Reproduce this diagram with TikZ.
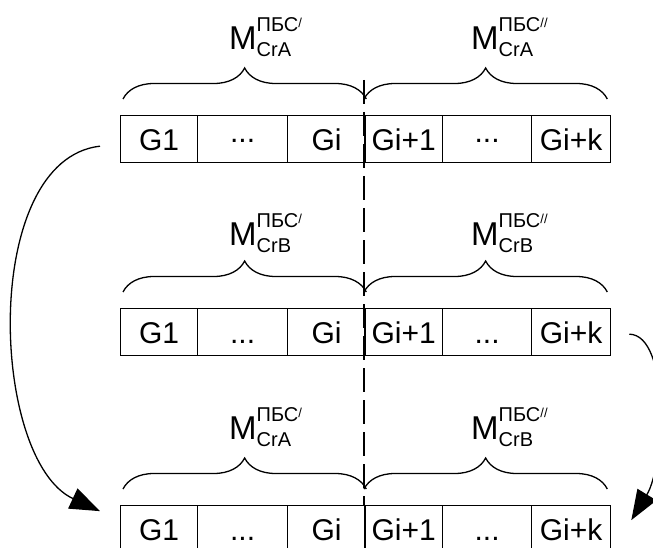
\documentclass[tikz,border=0pt]{standalone}
\usepackage{fontspec}
\setmainfont{Liberation Sans}
\usetikzlibrary{arrows.meta,positioning,calc,decorations.pathreplacing}
\newcommand{\mlab}[2]{{\fontsize{33}{33}\selectfont M}\rlap{\raisebox{18pt}{\fontsize{20}{20}\selectfont ПБС\raisebox{4pt}{\fontsize{13}{13}\selectfont #2}}}\raisebox{-7pt}{\fontsize{20}{20}\selectfont #1}}
\newcommand{\lowdots}{...}
\newcommand{\middots}{\raisebox{8pt}{...}}
\tikzset{segcell/.style={draw,line width=1.3pt,anchor=north west,minimum height=47pt,inner sep=0pt,text height=23pt,text depth=0pt,font=\fontsize{30}{30}\selectfont},segbrace/.style={line width=1.3pt,decorate,decoration={brace,amplitude=31pt}},segarr/.style={-{Triangle[length=30pt,width=22pt]},line width=1.3pt},segdash/.style={line width=1.1pt,dash pattern=on 24pt off 8pt},seglabel/.style={anchor=base west,inner sep=0pt}}
\begin{document}
\begin{tikzpicture}[x=1pt,y=-1pt]
\useasboundingbox (0,0) rectangle (653,548);
\node[segcell,minimum width=77pt] (a1) at (120,115) {G1};
\node[segcell,minimum width=90pt] (a2) at (197,115) {\middots};
\node[segcell,minimum width=78pt] (a3) at (287,115) {Gi};
\node[segcell,minimum width=78pt] (a4) at (364,115) {Gi+1};
\node[segcell,minimum width=89pt] (a5) at (442,115) {\middots};
\node[segcell,minimum width=79pt] (a6) at (531,115) {Gi+k};
\node[segcell,minimum width=77pt] (b1) at (120,308) {G1};
\node[segcell,minimum width=90pt] (b2) at (197,308) {\lowdots};
\node[segcell,minimum width=78pt] (b3) at (287,308) {Gi};
\node[segcell,minimum width=78pt] (b4) at (364,308) {Gi+1};
\node[segcell,minimum width=89pt] (b5) at (442,308) {\lowdots};
\node[segcell,minimum width=79pt] (b6) at (531,308) {Gi+k};
\node[segcell,minimum width=77pt] (c1) at (120,505) {G1};
\node[segcell,minimum width=90pt] (c2) at (197,505) {\lowdots};
\node[segcell,minimum width=78pt] (c3) at (287,505) {Gi};
\node[segcell,minimum width=78pt] (c4) at (364,505) {Gi+1};
\node[segcell,minimum width=89pt] (c5) at (442,505) {\lowdots};
\node[segcell,minimum width=79pt] (c6) at (531,505) {Gi+k};
\draw[segbrace] ($(a1.north west)+(3,-16)$) -- ($(a3.north east)+(0,-16)$);
\draw[segbrace] ($(a4.north west)+(0,-16)$) -- ($(a6.north east)+(-4,-16)$);
\draw[segbrace] ($(b1.north west)+(3,-16)$) -- ($(b3.north east)+(0,-16)$);
\draw[segbrace] ($(b4.north west)+(0,-16)$) -- ($(b6.north east)+(-4,-16)$);
\draw[segbrace] ($(c1.north west)+(3,-16)$) -- ($(c3.north east)+(0,-16)$);
\draw[segbrace] ($(c4.north west)+(0,-16)$) -- ($(c6.north east)+(-4,-16)$);
\draw[segdash] ($(a4.north west)+(0,-35)$) -- (c4.north west);
\node[seglabel] (la1) at (229,50) {\mlab{CrA}{/}};
\node[seglabel] (la2) at (471,50) {\mlab{CrA}{//}};
\node[seglabel] (lb1) at (229,245) {\mlab{CrB}{/}};
\node[seglabel] (lb2) at (471,245) {\mlab{CrB}{//}};
\node[seglabel] (lc1) at (229,439) {\mlab{CrA}{/}};
\node[seglabel] (lc2) at (471,439) {\mlab{CrB}{//}};
\coordinate (ls) at ($(a1.west)+(-20,7)$);
\coordinate (le) at ($(c1.west)+(-20,-18)$);
\coordinate (rs) at ($(b6.east)+(18,2)$);
\coordinate (re) at ($(c6.east)+(20,-9)$);
\draw[segarr] (ls) .. controls (-20,160) and (-10,460) .. (le);
\draw[segarr] (rs) .. controls (670,335) and (665,465) .. (re);
\end{tikzpicture}
\end{document}
